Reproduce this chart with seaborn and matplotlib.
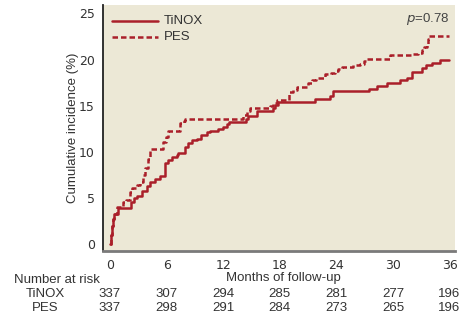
import matplotlib
matplotlib.use('Agg')
import matplotlib.pyplot as plt
import seaborn as sns
import pandas as pd

# Kaplan-Meier style cumulative incidence
tinox_months = [0, 0.1, 0.2, 0.3, 0.4, 0.85, 2.2, 2.5, 2.85, 3.35, 3.9, 4.25, 4.8, 5.3,
                5.85, 6.2, 6.55, 7.1, 7.25, 7.95, 8.3, 8.65, 9.2, 9.7, 10.3, 10.6, 11.5,
                12.0, 12.4, 12.6, 14.4, 14.6, 15.6, 17.3, 17.5, 17.8, 21.7, 23.3, 23.6,
                27.5, 28.3, 29.4, 30.8, 31.5, 32.0, 33.1, 33.55, 34.2, 35.0, 36.0]
tinox_inc = [0, 1.0, 2.0, 2.7, 3.3, 3.9, 4.6, 5.0, 5.25, 5.75, 6.3, 6.75, 7.0, 7.35,
             8.75, 9.1, 9.45, 9.65, 9.9, 10.5, 10.9, 11.25, 11.4, 11.8, 12.1, 12.3, 12.45,
             12.7, 13.0, 13.25, 13.6, 13.9, 14.4, 14.8, 15.1, 15.4, 15.7, 16.05, 16.55,
             16.85, 17.1, 17.45, 17.75, 18.0, 18.65, 19.1, 19.4, 19.65, 20.0, 20.0]

pes_months = [0, 0.1, 0.2, 0.3, 0.4, 0.7, 1.4, 1.75, 2.1, 2.3, 2.85, 3.2, 3.55, 3.7,
              4.05, 4.25, 5.6, 5.95, 6.2, 7.4, 7.8, 7.96, 14.1, 14.5, 14.8, 17.0, 17.3,
              17.7, 18.95, 19.4, 19.8, 21.0, 21.4, 21.8, 22.8, 23.4, 23.9, 24.2, 24.6,
              25.8, 26.5, 26.9, 27.1, 29.7, 31.9, 32.7, 33.1, 33.3, 33.6, 33.7, 33.8, 36.0]
pes_inc = [0, 1.0, 2.0, 2.7, 3.3, 4.0, 4.6, 4.8, 5.65, 6.1, 6.4, 6.75, 7.45, 8.2,
           9.25, 10.35, 11.1, 11.6, 12.3, 13.1, 13.35, 13.6, 14.0, 14.4, 14.7, 15.0, 15.3,
           15.65, 16.5, 16.75, 17.0, 17.45, 17.75, 18.0, 18.4, 18.5, 18.75, 19.0, 19.2,
           19.4, 19.55, 19.85, 20.1, 20.45, 20.6, 20.7, 21.0, 21.35, 21.7, 22.25, 22.6, 22.6]

risk_months = [0, 6, 12, 18, 24, 30, 36]
tinox_risk = [337, 307, 294, 285, 281, 277, 196]
pes_risk = [337, 298, 291, 284, 273, 265, 196]

df = pd.concat([
    pd.DataFrame({'month': tinox_months, 'inc': tinox_inc, 'group': 'TiNOX'}),
    pd.DataFrame({'month': pes_months, 'inc': pes_inc, 'group': 'PES'}),
])

sns.set_style('white')
plt.rcParams['font.family'] = ['Liberation Sans', 'DejaVu Sans']
narrow = ['Liberation Sans Narrow', 'DejaVu Sans']
txt = '#333333'
red = '#aa1f2a'

fig = plt.figure(figsize=(4.63, 3.21), dpi=100)
ax = fig.add_axes([0.2225, 0.218, 0.7605, 0.766])
ax.set_facecolor('#ece8d6')

sns.lineplot(data=df, x='month', y='inc', hue='group', style='group',
             palette={'TiNOX': red, 'PES': red},
             dashes={'TiNOX': '', 'PES': (2.2, 1.2)},
             estimator=None, sort=False, drawstyle='steps-post',
             linewidth=1.8, ax=ax, legend=False)

# legend drawn by hand
ax.plot([0.2, 5.1], [24.2, 24.2], color=red, lw=1.8)
ax.plot([0.2, 5.1], [22.4, 22.4], color=red, lw=1.8, dashes=(2.2, 1.2))
ax.text(5.7, 24.2, 'TiNOX', va='center', ha='left', fontsize=9.5, color=txt)
ax.text(5.7, 22.4, 'PES', va='center', ha='left', fontsize=9.5, color=txt)
ax.text(36.0, 24.4, r'$p$=0.78', va='center', ha='right', fontsize=9.5, color='#444444')

ax.set_xlim(-0.74, 36.6)
ax.set_ylim(-0.76, 25.9)
ax.set_xticks(risk_months)
ax.set_yticks([0, 5, 10, 15, 20, 25])
for lab in ax.get_xticklabels() + ax.get_yticklabels():
    lab.set_family(narrow)
    lab.set_fontsize(9)
    lab.set_color(txt)
ax.tick_params(axis='both', direction='out', length=4, width=0.8, color='#333333', pad=2)
ax.set_xlabel('')
ax.set_ylabel('Cumulative incidence (%)', fontsize=9.5, color=txt, labelpad=0)

for s in ['top', 'right']:
    ax.spines[s].set_visible(False)
ax.spines['left'].set_color('#222222')
ax.spines['left'].set_linewidth(1.3)
ax.spines['bottom'].set_color('#7a7a7a')
ax.spines['bottom'].set_linewidth(2)

# number at risk table
fig.text(14 / 463, 1 - 280 / 321, 'Number at risk', fontsize=9.5, color=txt, va='center', ha='left')
fig.text(283 / 463, 1 - 278 / 321, 'Months of follow-up', fontsize=9.5, color=txt, va='center', ha='center')
fig.text(45 / 463, 1 - 294 / 321, 'TiNOX', fontsize=9.5, color=txt, va='center', ha='center')
fig.text(45 / 463, 1 - 308 / 321, 'PES', fontsize=9.5, color=txt, va='center', ha='center')
for m, a, b in zip(risk_months, tinox_risk, pes_risk):
    xf = fig.transFigure.inverted().transform(ax.transData.transform((m, 0)))[0]
    fig.text(xf, 1 - 294 / 321, str(a), fontsize=9.5, color=txt, va='center', ha='center')
    fig.text(xf, 1 - 308 / 321, str(b), fontsize=9.5, color=txt, va='center', ha='center')

fig.savefig('out.png', dpi=100)
